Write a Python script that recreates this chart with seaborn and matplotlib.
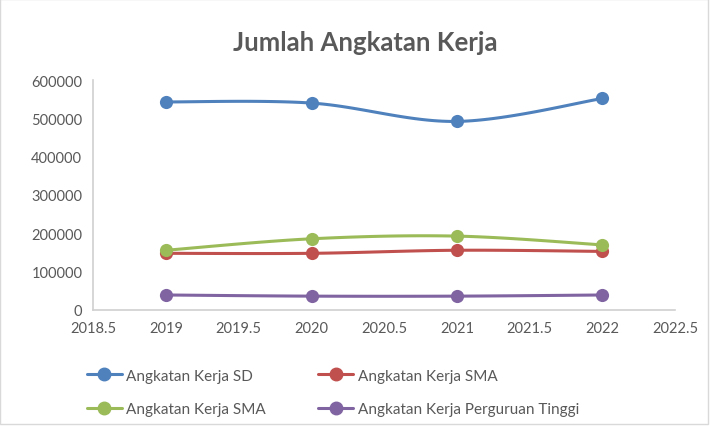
import numpy as np
import pandas as pd
import matplotlib
matplotlib.use("Agg")
import matplotlib.pyplot as plt
import seaborn as sns
from matplotlib.patches import Rectangle
from matplotlib.lines import Line2D

years = [2019, 2020, 2021, 2022]
series_names = ["Angkatan Kerja SD", "Angkatan Kerja SMA", "Angkatan Kerja SMA", "Angkatan Kerja Perguruan Tinggi"]
sd_values = [543000, 540000, 492000, 552000]
sma1_values = [147000, 147000, 155000, 152000]
sma2_values = [155000, 185000, 192000, 169000]
pt_values = [38000, 35000, 35000, 38000]
y_ticks = [0, 100000, 200000, 300000, 400000, 500000, 600000]
x_ticks = [2018.5, 2019, 2019.5, 2020, 2020.5, 2021, 2021.5, 2022, 2022.5]

colors = ["#4F81BD", "#C0504D", "#9BBB59", "#8064A2"]

sns.set_theme(style="white")
plt.rcParams['font.family'] = ['Lato', 'DejaVu Sans']


def catmull_rom(xs, ys, n=40):
    xs = np.asarray(xs, float)
    ys = np.asarray(ys, float)
    px = np.concatenate([[xs[0]], xs, [xs[-1]]])
    py = np.concatenate([[ys[0]], ys, [ys[-1]]])
    outx, outy = [], []
    for i in range(1, len(px) - 2):
        p0, p1, p2, p3 = (np.array([px[j], py[j]]) for j in (i - 1, i, i + 1, i + 2))
        c1 = p1 + (p2 - p0) / 6.0
        c2 = p2 - (p3 - p1) / 6.0
        t = np.linspace(0, 1, n)[:, None]
        pts = ((1 - t) ** 3) * p1 + 3 * ((1 - t) ** 2) * t * c1 + 3 * (1 - t) * t ** 2 * c2 + t ** 3 * p2
        outx.extend(pts[:, 0]); outy.extend(pts[:, 1])
    return np.array(outx), np.array(outy)


fig = plt.figure(figsize=(7.1, 4.27), dpi=100)
ax = fig.add_axes([0.1315, 0.2728, 0.951 - 0.1315, 0.810 - 0.2728])

all_vals = [sd_values, sma1_values, sma2_values, pt_values]
for name, vals, col in zip(series_names, all_vals, colors):
    sx, sy = catmull_rom(years, vals)
    sns.lineplot(x=sx, y=sy, ax=ax, color=col, linewidth=2.2, sort=False, estimator=None)
    sns.scatterplot(x=years, y=vals, ax=ax, color=col, s=90, edgecolor=col, linewidth=0, zorder=3)

ax.set_xlim(2018.5, 2022.5)
ax.set_ylim(0, 600000)
ax.set_xticks(x_ticks)
ax.set_xticklabels([f"{t:g}" for t in x_ticks])
ax.set_yticks(y_ticks)
ax.set_yticklabels([str(t) for t in y_ticks])
ax.tick_params(axis='both', colors="#595959", labelsize=10.5, length=0, pad=8)
ax.grid(False)
for s in ["top", "right"]:
    ax.spines[s].set_visible(False)
for s in ["left", "bottom"]:
    ax.spines[s].set_color("#D0D0D0")
    ax.spines[s].set_linewidth(1.2)

fig.suptitle("Jumlah Angkatan Kerja", x=0.515, y=0.928, fontsize=18.5, fontweight="bold", color="#595959")

handles = [Line2D([0], [0], color=c, lw=2.2, marker='o', markersize=9) for c in colors]
order = [0, 2, 1, 3]
leg = fig.legend([handles[i] for i in order], [series_names[i] for i in order],
                 loc="upper left", bbox_to_anchor=(0.122, 0.134), ncol=2, frameon=False,
                 fontsize=11, handlelength=2.3, handletextpad=0.3, columnspacing=3.4, labelspacing=1.25,
                 borderaxespad=0, borderpad=0)
for t in leg.get_texts():
    t.set_color("#595959")

fig.patches.append(Rectangle((0.0, 0.004), 0.997, 0.995, transform=fig.transFigure, fill=False,
                             edgecolor="#D9D9D9", linewidth=1.0))

fig.savefig("out.png", dpi=100)
